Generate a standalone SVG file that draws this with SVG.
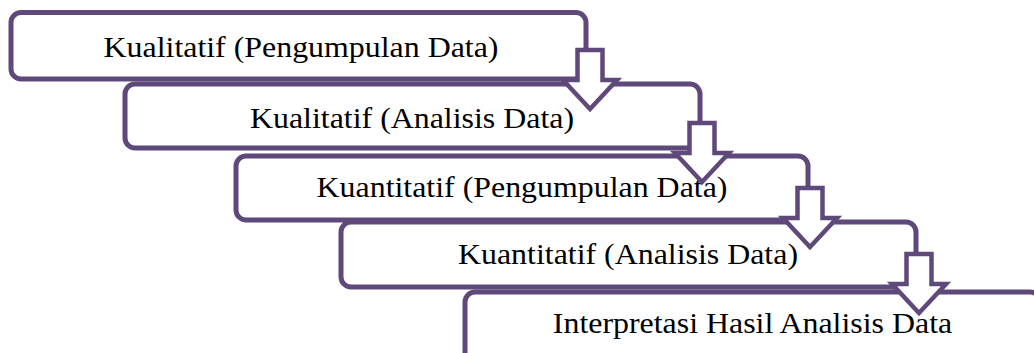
<svg xmlns="http://www.w3.org/2000/svg" width="1034" height="353" viewBox="0 0 1034 353">
  <style>
    .box { fill: #FFFFFF; stroke: #5F497A; stroke-width: 5; }
    .lbl { font-family: "Liberation Serif", serif; font-size: 29px; fill: #000000; text-anchor: middle; }
    .arrow { fill: #FFFFFF; stroke: #5F497A; stroke-width: 4.5; stroke-linejoin: miter; }
  </style>
  <defs>
    <path id="downArrow" d="M-12.5,0 H12.5 V30 H27 L0,59 L-27,30 H-12.5 Z"/>
  </defs>
  <rect x="0" y="0" width="1034" height="353" fill="#FFFFFF"/>
  <g id="node1">
    <rect class="box" x="11" y="12.5" width="575" height="66.5" rx="10" ry="10"/>
    <text class="lbl" transform="translate(301,57) scale(1.1,1)" x="0" y="0">Kualitatif (Pengumpulan Data)</text>
  </g>
  <g id="node2">
    <rect class="box" x="125" y="84" width="575" height="64" rx="10" ry="10"/>
    <text class="lbl" transform="translate(412,128) scale(1.1,1)" x="0" y="0">Kualitatif (Analisis Data)</text>
  </g>
  <g id="node3">
    <rect class="box" x="236" y="156" width="572" height="64" rx="10" ry="10"/>
    <text class="lbl" transform="translate(522,197) scale(1.1,1)" x="0" y="0">Kuantitatif (Pengumpulan Data)</text>
  </g>
  <g id="node4">
    <rect class="box" x="341" y="222" width="575" height="65" rx="10" ry="10"/>
    <text class="lbl" transform="translate(628,264) scale(1.1,1)" x="0" y="0">Kuantitatif (Analisis Data)</text>
  </g>
  <g id="node5">
    <rect class="box" x="465" y="292" width="575" height="70" rx="10" ry="10"/>
    <text class="lbl" transform="translate(752.5,333) scale(1.1,1)" x="0" y="0">Interpretasi Hasil Analisis Data</text>
  </g>
  <g id="connectors">
    <use href="#downArrow" class="arrow" transform="translate(590,50)"/>
    <use href="#downArrow" class="arrow" transform="translate(702,123)"/>
    <use href="#downArrow" class="arrow" transform="translate(810,188)"/>
    <use href="#downArrow" class="arrow" transform="translate(919,254)"/>
  </g>
</svg>
